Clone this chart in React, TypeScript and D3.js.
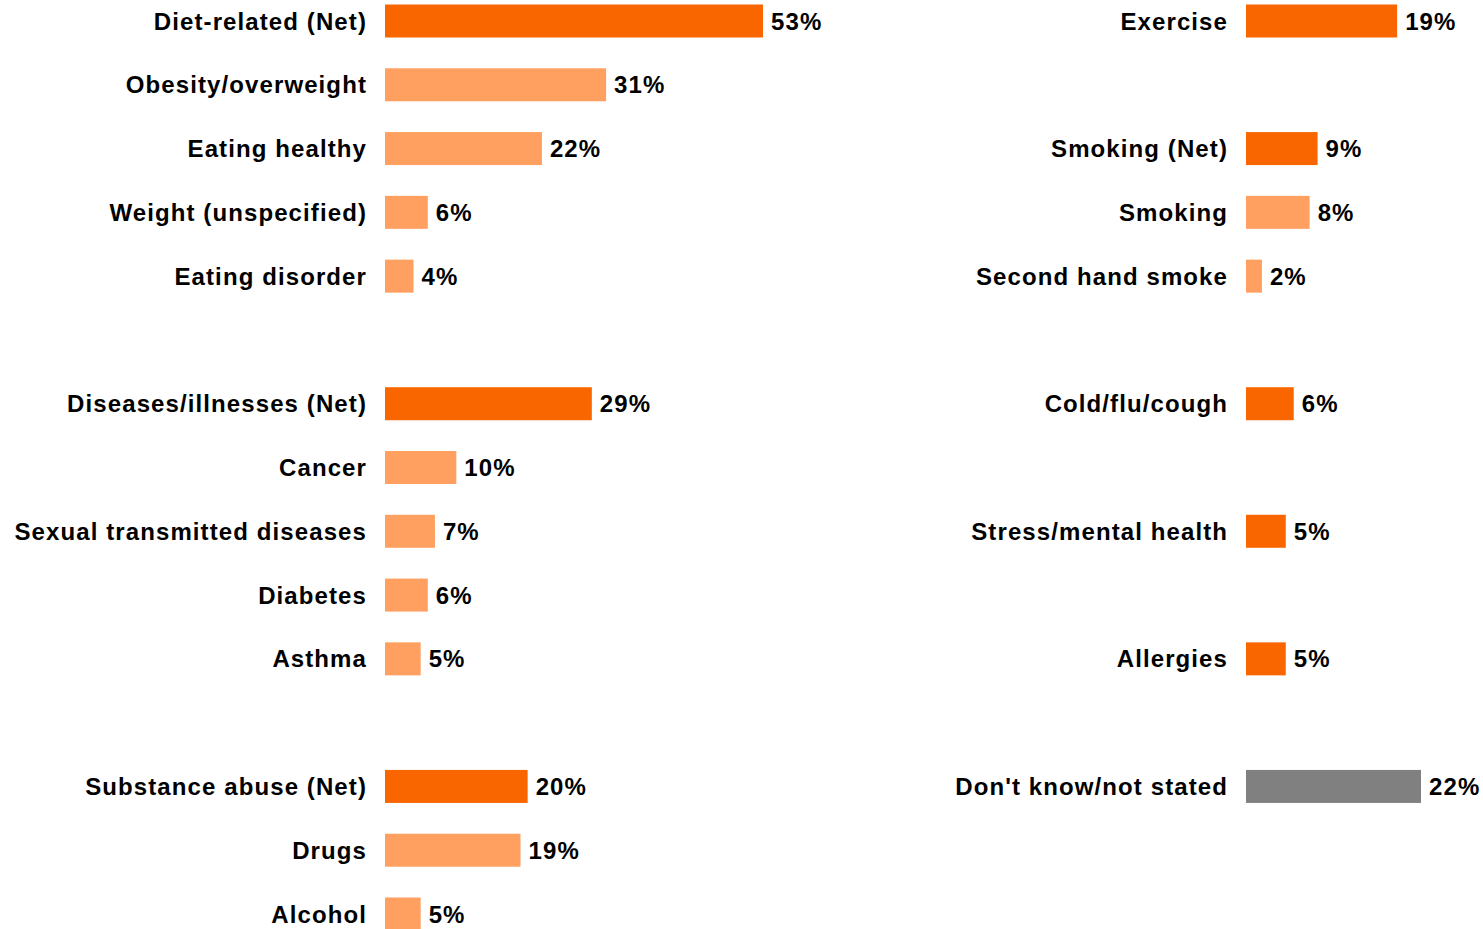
import React from "react";
import * as d3 from "d3";

const leftLabels = [
  "Diet-related (Net)", "Obesity/overweight", "Eating healthy", "Weight (unspecified)", "Eating disorder",
  "Diseases/illnesses (Net)", "Cancer", "Sexual transmitted diseases", "Diabetes", "Asthma",
  "Substance abuse (Net)", "Drugs", "Alcohol",
];
const leftValues = [53, 31, 22, 6, 4, 29, 10, 7, 6, 5, 20, 19, 5];
const leftRows = [0, 1, 2, 3, 4, 6, 7, 8, 9, 10, 12, 13, 14];
const leftKinds = ["net", "sub", "sub", "sub", "sub", "net", "sub", "sub", "sub", "sub", "net", "sub", "sub"];

const rightLabels = [
  "Exercise", "Smoking (Net)", "Smoking", "Second hand smoke", "Cold/flu/cough",
  "Stress/mental health", "Allergies", "Don't know/not stated",
];
const rightValues = [19, 9, 8, 2, 6, 5, 5, 22];
const rightRows = [0, 2, 3, 4, 6, 8, 10, 12];
const rightKinds = ["net", "net", "sub", "sub", "net", "net", "net", "dk"];

const colors: Record<string, string> = { net: "#F96600", sub: "#FFA060", dk: "#808080" };

export default function App() {
  const W = 1483, H = 929;
  const y = d3.scalePoint<number>().domain(d3.range(15)).range([21, 914]);
  const xL = d3.scaleLinear().domain([0, 53]).range([385, 763]);
  const xR = d3.scaleLinear().domain([0, 22]).range([1246, 1421]);
  const bh = 33;
  const font = { fontFamily: "'Liberation Sans', Arial, sans-serif", fontWeight: 700, fontSize: 24, letterSpacing: "1.1px" } as const;

  const panel = (labels: string[], values: number[], rows: number[], kinds: string[], x: d3.ScaleLinear<number, number>, key: string) =>
    labels.map((lab, i) => {
      const cy = y(rows[i])!;
      const x0 = x(0);
      const x1 = x(values[i]);
      return (
        <g key={key + i}>
          <text x={x0 - 18} y={cy} dy="0.36em" textAnchor="end" fill="#000" style={font}>{lab}</text>
          <rect x={x0} y={cy - bh / 2} width={x1 - x0} height={bh} fill={colors[kinds[i]]} />
          <text x={x1 + 8} y={cy} dy="0.36em" fill="#000" style={font}>{values[i] + "%"}</text>
        </g>
      );
    });

  return (
    <svg width={W} height={H} style={{ position: "absolute", left: 0, top: 0, background: "#fff" }}>
      {panel(leftLabels, leftValues, leftRows, leftKinds, xL, "l")}
      {panel(rightLabels, rightValues, rightRows, rightKinds, xR, "r")}
    </svg>
  );
}
